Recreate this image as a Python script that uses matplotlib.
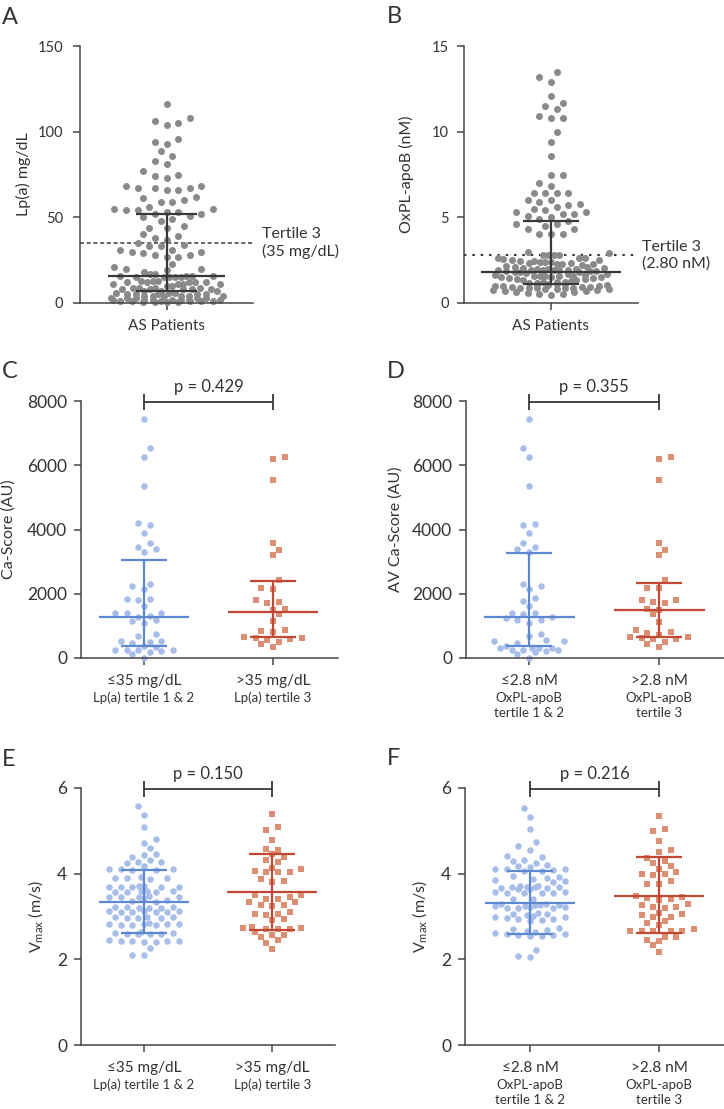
import numpy as np
import matplotlib.pyplot as plt

plt.rcParams['font.family'] = ['Lato', 'DejaVu Sans']
plt.rcParams['mathtext.default'] = 'regular'

W, H = 724, 1109
TXT = '#333333'
AXC = '#454545'
GRAY = '#8a8a8a'
DARK = '#383838'
BLUE_PT = '#a8bde7'
BLUE_LN = '#5c88d2'
RED_PT = '#dd8f73'
RED_LN = '#c34834'

# ---- data ----
lpa = [116, 108, 106, 105, 104, 96, 94, 93, 89, 86, 83, 81, 77, 75, 74, 73,
       68, 68, 67, 67, 67, 66, 66, 62, 61, 60, 59, 59, 56, 55, 55, 54, 54, 53, 53,
       52, 52, 51, 50, 49, 48, 45, 44, 44, 40, 39, 38, 37, 35, 34, 33, 33, 31, 31,
       30, 30, 29, 28, 28, 27, 27, 23, 21, 20, 20, 19, 18,
       17, 17, 16, 16, 16, 16, 15, 15, 15, 15, 15,
       13, 13, 13, 12, 12, 12, 12, 12, 11, 11, 11, 11,
       10, 10, 9, 9, 9, 9, 8, 8, 8, 8, 8, 7, 7, 7,
       6, 6, 6, 5, 5, 5, 5, 5, 4, 4, 4, 4, 4, 4,
       3, 3, 3, 3, 3, 2, 2, 2, 2, 2, 2, 2, 1, 1, 1, 1,
       1, 1, 0.5, 0.5, 0.5, 0.5]
lpa_stats = [15.5, 6.8, 52.2]          # median, Q1, Q3

oxpl = [13.5, 13.2, 12.9, 12.1, 11.7, 11.5, 11.3, 10.9, 10.8, 10.8, 10.0, 9.4, 8.6,
        7.5, 7.5, 7.0, 6.8, 6.4, 6.4, 6.4, 6.4, 6.0, 6.0, 5.9, 5.8, 5.7, 5.6, 5.5,
        5.4, 5.3, 5.3, 5.2, 5.2, 5.1, 5.0, 4.9,
        4.8, 4.6, 4.6, 4.5, 4.3, 4.3, 4.0, 4.0, 4.0, 3.0, 2.9, 2.8, 2.8, 2.8, 2.8,
        2.6, 2.6, 2.6,
        2.55, 2.5, 2.5, 2.45, 2.45, 2.4, 2.4, 2.4, 2.35, 2.35, 2.3, 2.3, 2.25, 2.2,
        2.15, 2.1, 2.1, 2.05, 2.05, 2.0, 2.0, 2.0, 1.95, 1.95, 1.95, 1.9, 1.9, 1.9,
        1.85, 1.85, 1.85, 1.8, 1.8, 1.8,
        1.75, 1.7, 1.7, 1.65, 1.65, 1.6, 1.6, 1.6, 1.55, 1.55, 1.5, 1.5, 1.5, 1.45,
        1.45, 1.4, 1.4, 1.35, 1.35, 1.3,
        1.25, 1.2, 1.2, 1.15, 1.15, 1.1, 1.1, 1.1, 1.05, 1.05, 1.05, 1.0, 1.0, 1.0,
        0.95, 0.95, 0.95, 0.9, 0.9, 0.9,
        0.85, 0.85, 0.8, 0.8, 0.8, 0.75, 0.75, 0.7, 0.7, 0.65, 0.65, 0.6, 0.55, 0.5, 0.45]
oxpl_stats = [1.80, 1.13, 4.77]

ca_lpa_low = [7430, 6545, 6265, 5350, 4190, 4155, 3905, 3565, 3460, 3385, 3285, 2295,
              2245, 2160, 1840, 1830, 1790, 1620, 1405, 1405, 1405, 1300, 1280, 1175,
              1155, 1100, 760, 675, 530, 530, 500, 480, 365, 345, 260, 260, 260, 260,
              210, 185, 115, 10]
ca_lpa_high = [6245, 6190, 5540, 3585, 3375, 3200, 2420, 2190, 2160, 1795, 1755, 1705,
               1540, 1485, 1360, 1145, 860, 840, 810, 655, 625, 625, 580, 570, 500,
               445, 345]
ca_lpa_stats = [[1278, 364, 3044], [1434, 655, 2400]]

ca_ox_low = [7430, 6545, 6265, 5360, 4185, 4155, 3905, 3565, 3460, 3385, 3285, 2295,
             2245, 2160, 1870, 1785, 1620, 1405, 1400, 1380, 1280, 1255, 1195, 1175,
             1090, 760, 675, 550, 530, 520, 480, 365, 320, 320, 320, 320, 260, 260,
             260, 220, 185, 115, 10]
ca_ox_high = [6245, 6190, 5540, 3585, 3375, 3200, 2440, 2190, 2190, 1820, 1795, 1755,
              1705, 1540, 1505, 1380, 1120, 860, 810, 780, 705, 655, 655, 620, 580,
              580, 500, 445, 345]
ca_ox_stats = [[1278, 364, 3283], [1486, 655, 2338]]

v_lpa_low = [5.58, 5.37, 5.10, 4.80, 4.71, 4.59, 4.47, 4.44, 4.38, 4.32, 4.28, 4.27,
             4.25, 4.18, 4.12, 4.11, 4.10, 4.09, 4.08,
             3.92, 3.90, 3.90, 3.89, 3.88,
             3.72, 3.71, 3.70, 3.70, 3.69, 3.69, 3.68,
             3.60, 3.60, 3.59, 3.58, 3.58, 3.57,
             3.47, 3.46, 3.46, 3.45, 3.45, 3.44,
             3.38, 3.36, 3.34,
             3.23, 3.22, 3.22, 3.21, 3.20, 3.20,
             3.13, 3.12, 3.12, 3.11, 3.11, 3.10, 3.10,
             2.99, 2.98, 2.98, 2.97, 2.97, 2.96,
             2.84, 2.83, 2.83, 2.82, 2.82, 2.81, 2.80, 2.80,
             2.63, 2.62, 2.61, 2.60, 2.60, 2.59, 2.58,
             2.44, 2.43, 2.43, 2.42, 2.42, 2.41, 2.40,
             2.26, 2.10, 2.09]
v_lpa_high = [5.39, 5.08, 5.01, 4.79, 4.57, 4.55, 4.45, 4.40, 4.33, 4.28, 4.13, 4.10,
              4.07, 4.03, 4.03, 4.03, 3.87, 3.84, 3.81, 3.50, 3.50, 3.46, 3.42, 3.41,
              3.33, 3.33, 3.27, 3.27, 3.24, 3.10, 3.07, 3.05, 3.03, 2.93, 2.91, 2.76,
              2.72, 2.72, 2.71, 2.70, 2.70, 2.64, 2.56, 2.56, 2.53, 2.45, 2.37, 2.24]
v_lpa_stats = [[3.35, 2.61, 4.09], [3.565, 2.685, 4.46]]

v_ox_low = [5.53, 5.33, 5.04, 4.75, 4.65, 4.56, 4.42, 4.39, 4.33, 4.29, 4.25,
            4.20, 4.18, 4.15, 4.12, 4.10, 4.10, 4.08, 4.07, 4.06,
            3.95, 3.93, 3.90, 3.88, 3.85, 3.83, 3.80,
            3.72, 3.71, 3.70, 3.70, 3.69, 3.68, 3.67, 3.66, 3.65, 3.65,
            3.58, 3.57, 3.56, 3.56, 3.55, 3.55,
            3.40, 3.40,
            3.30, 3.29, 3.28, 3.27, 3.26, 3.25, 3.24, 3.23, 3.22, 3.21, 3.20, 3.20,
            3.08, 3.07, 3.05, 3.03, 3.01, 3.00, 2.99, 2.97, 2.95, 2.93, 2.92, 2.90,
            2.72, 2.70, 2.68, 2.66, 2.64, 2.62, 2.60, 2.58, 2.57, 2.56, 2.55, 2.55,
            2.22, 2.07, 2.05]
v_ox_high = [5.35, 5.04, 5.00, 4.77, 4.55, 4.50, 4.37, 4.30, 4.24, 4.19, 4.10, 4.03,
             3.99, 3.99, 3.98, 3.83, 3.77, 3.77, 3.47, 3.45, 3.43, 3.41, 3.38, 3.29,
             3.27, 3.23, 3.23, 3.19, 3.08, 3.05, 3.03, 3.00, 2.98, 2.89, 2.85, 2.79,
             2.70, 2.67, 2.67, 2.65, 2.65, 2.65, 2.53, 2.53, 2.45, 2.43, 2.33, 2.17]
v_ox_stats = [[3.32, 2.58, 4.07], [3.48, 2.62, 4.38]]

fig = plt.figure(figsize=(W / 100, H / 100), dpi=100)


def make_axes(left, top, right, bottom, xlim, ylim, yticks, tick_fs, pad):
    ax = fig.add_axes([left / W, 1 - bottom / H, (right - left) / W, (bottom - top) / H])
    for s in ['top', 'right']:
        ax.spines[s].set_visible(False)
    for s in ['left', 'bottom']:
        ax.spines[s].set_color(AXC)
        ax.spines[s].set_linewidth(1.1)
    ax.set_xlim(*xlim)
    ax.set_ylim(*ylim)
    ax.set_yticks(yticks)
    ax.tick_params(axis='both', colors=AXC, labelcolor=TXT, width=1.1, length=5,
                   direction='out', labelsize=tick_fs)
    ax.tick_params(axis='y', pad=pad)
    return ax


def swarm_x(ax, x0, values, diam, maxhw, r1, r2, slot=11.6):
    # dot-plot layout in pixel space: points in one row sit a full slot apart,
    # points in neighbouring rows shift by half a slot
    pts = ax.transData.transform(np.column_stack([np.full(len(values), x0), values]))
    cx, ys = pts[0, 0], pts[:, 1]
    tiers = []
    for step, gap in ((slot / 2, slot), (diam * 0.4, diam * 0.8)):
        k = int(maxhw / step + 1e-9)
        tiers.append((np.arange(-k, k + 1) * step, gap))
    px, py = [], []
    offs = np.zeros(len(values))
    for n, i in enumerate(np.argsort(ys, kind='stable')):
        y = ys[i]
        sgn = 1 if n % 2 else -1
        X = np.array(px)
        dy = np.abs(np.array(py) - y)
        choice = None
        for lat, gap in tiers:
            for c in sorted(lat, key=lambda c: (abs(c), sgn * c)):
                dx = np.abs(X - c)
                bad = ((dy < r1) & (dx < gap - 1e-6)) | ((dy < r2) & (dx < gap / 2 - 1e-6))
                if not bad.any():
                    choice = c
                    break
            if choice is not None:
                break
        if choice is None:
            lat = tiers[1][0]
            choice = min(lat, key=lambda c: (np.sum((dy < r2) & (np.abs(X - c) < diam)), abs(c)))
        px.append(choice)
        py.append(y)
        offs[i] = choice
    return ax.transData.inverted().transform(np.column_stack([cx + offs, ys]))[:, 0]


def draw_group(ax, x0, values, stats, pt_color, ln_color, marker, size_px, maxhw,
               mid_hw, cap_hw, r1=4.0, r2=10.0):
    xs = swarm_x(ax, x0, values, size_px, maxhw, r1, r2)
    ax.scatter(xs, values, s=(size_px * 0.72) ** 2, c=pt_color, marker=marker,
               linewidths=0, clip_on=False, zorder=2)
    mid, lo, hi = stats
    kw = dict(color=ln_color, lw=1.6, zorder=3, solid_capstyle='butt', clip_on=False)
    ax.plot([x0 - mid_hw, x0 + mid_hw], [mid, mid], **kw)
    ax.plot([x0, x0], [lo, hi], **kw)
    for v in (lo, hi):
        ax.plot([x0 - cap_hw, x0 + cap_hw], [v, v], **kw)


def cat_labels(ax, x0, lines):
    offs = [23, 40, 55]
    for i, t in enumerate(lines):
        ax.annotate(t, xy=(x0, 0), xycoords=('data', 'axes fraction'),
                    xytext=(0, -offs[i] * 0.72), textcoords='offset points',
                    ha='center', va='center', fontsize=11 if i == 0 else 9.5, color=TXT)


def bracket(ax, ptext):
    ymax = ax.get_ylim()[1]
    unit = ymax / 257.0
    yb = ymax - unit
    kw = dict(color=DARK, lw=1.3, clip_on=False, solid_capstyle='butt')
    ax.plot([0, 1], [yb, yb], **kw)
    for x in (0, 1):
        ax.plot([x, x], [yb - 8 * unit, yb + 8 * unit], **kw)
    ax.text(0.5, yb + 10 * unit, ptext, ha='center', va='baseline', fontsize=12, color=TXT)


def ylab(ax, text, xfrac):
    ax.set_ylabel(text, fontsize=11.5, color=TXT, va='center')
    ax.yaxis.set_label_coords(xfrac, 0.5)


# ---- A ----
axA = make_axes(80, 46, 253, 303, (-1, 1), (0, 150), [0, 50, 100, 150], 10.5, 7)
axA.set_xticks([0])
axA.set_xticklabels([])
draw_group(axA, 0, lpa, lpa_stats, GRAY, DARK, 'o', 7, 56, 0.68, 0.35, r1=6.0, r2=11.0)
axA.axhline(35, color=DARK, lw=1.1, ls=(0, (2.6, 1.8)), zorder=1)
axA.text(1.052, 35, 'Tertile 3\n(35 mg/dL)', transform=axA.get_yaxis_transform(),
         ha='left', va='center', fontsize=11.5, color=TXT, linespacing=1.2, clip_on=False)
cat_labels(axA, 0, ['AS Patients'])
ylab(axA, 'Lp(a) mg/dL', -0.324)

# ---- B ----
axB = make_axes(464, 46, 638, 303, (-1, 1), (0, 15), [0, 5, 10, 15], 10.5, 6)
axB.set_xticks([0])
axB.set_xticklabels([])
draw_group(axB, 0, oxpl, oxpl_stats, GRAY, DARK, 'o', 7, 58, 0.81, 0.325, r1=6.0, r2=11.0)
axB.axhline(2.8, color=DARK, lw=1.5, ls=(0, (1.2, 2.8)), zorder=1)
axB.text(1.023, 2.8, 'Tertile 3\n(2.80 nM)', transform=axB.get_yaxis_transform(),
         ha='left', va='center', fontsize=11.5, color=TXT, linespacing=1.2, clip_on=False)
cat_labels(axB, 0, ['AS Patients'])
ylab(axB, 'OxPL-apoB (nM)', -0.328)

# ---- C ----
axC = make_axes(81, 401, 338, 658, (-0.488, 1.504), (0, 8000), [0, 2000, 4000, 6000, 8000], 12.5, 5)
axC.set_xticks([0, 1])
axC.set_xticklabels([])
draw_group(axC, 0, ca_lpa_low, ca_lpa_stats[0], BLUE_PT, BLUE_LN, 'o', 6.5, 36, 0.35, 0.18)
draw_group(axC, 1, ca_lpa_high, ca_lpa_stats[1], RED_PT, RED_LN, 's', 6.3, 36, 0.35, 0.18)
bracket(axC, 'p = 0.429')
cat_labels(axC, 0, ['≤35 mg/dL', 'Lp(a) tertile 1 & 2'])
cat_labels(axC, 1, ['>35 mg/dL', 'Lp(a) tertile 3'])
ylab(axC, 'Ca-Score (AU)', -0.28)

# ---- D ----
axD = make_axes(466, 401, 724, 658, (-0.485, 1.5), (0, 8000), [0, 2000, 4000, 6000, 8000], 12.5, 5)
axD.set_xticks([0, 1])
axD.set_xticklabels([])
draw_group(axD, 0, ca_ox_low, ca_ox_stats[0], BLUE_PT, BLUE_LN, 'o', 6.5, 36, 0.35, 0.18)
draw_group(axD, 1, ca_ox_high, ca_ox_stats[1], RED_PT, RED_LN, 's', 6.3, 36, 0.35, 0.18)
bracket(axD, 'p = 0.355')
cat_labels(axD, 0, ['≤2.8 nM', 'OxPL-apoB', 'tertile 1 & 2'])
cat_labels(axD, 1, ['>2.8 nM', 'OxPL-apoB', 'tertile 3'])
ylab(axD, 'AV Ca-Score (AU)', -0.275)

# ---- E ----
axE = make_axes(81, 788, 335, 1045, (-0.492, 1.49), (0, 6), [0, 2, 4, 6], 12.5, 5)
axE.set_xticks([0, 1])
axE.set_xticklabels([])
draw_group(axE, 0, v_lpa_low, v_lpa_stats[0], BLUE_PT, BLUE_LN, 'o', 6.5, 36, 0.35, 0.18)
draw_group(axE, 1, v_lpa_high, v_lpa_stats[1], RED_PT, RED_LN, 's', 6.3, 36, 0.35, 0.18)
bracket(axE, 'p = 0.150')
cat_labels(axE, 0, ['≤35 mg/dL', 'Lp(a) tertile 1 & 2'])
cat_labels(axE, 1, ['>35 mg/dL', 'Lp(a) tertile 3'])
ylab(axE, 'V$_{max}$ (m/s)', -0.18)

# ---- F ----
axF = make_axes(465, 788, 724, 1045, (-0.504, 1.504), (0, 6), [0, 2, 4, 6], 12.5, 5)
axF.set_xticks([0, 1])
axF.set_xticklabels([])
draw_group(axF, 0, v_ox_low, v_ox_stats[0], BLUE_PT, BLUE_LN, 'o', 6.5, 36, 0.35, 0.18)
draw_group(axF, 1, v_ox_high, v_ox_stats[1], RED_PT, RED_LN, 's', 6.3, 36, 0.35, 0.18)
bracket(axF, 'p = 0.216')
cat_labels(axF, 0, ['≤2.8 nM', 'OxPL-apoB', 'tertile 1 & 2'])
cat_labels(axF, 1, ['>2.8 nM', 'OxPL-apoB', 'tertile 3'])
ylab(axF, 'V$_{max}$ (m/s)', -0.174)

# panel letters
for letter, x, y in [('A', 2, 24), ('B', 387, 23), ('C', 2, 378),
                     ('D', 387, 378), ('E', 2, 766), ('F', 387, 765)]:
    fig.text(x / W, 1 - y / H, letter, fontsize=17, color=TXT, ha='left', va='baseline')

fig.savefig('out.png', dpi=100)
